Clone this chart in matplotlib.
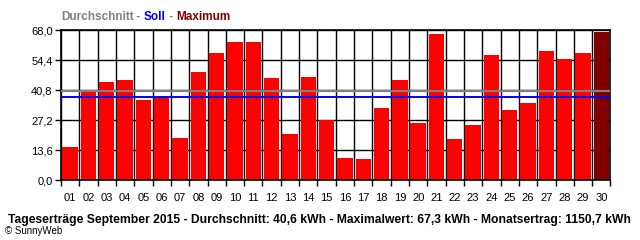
import matplotlib.pyplot as plt
import numpy as np

plt.rcParams['font.family'] = ['Liberation Sans', 'DejaVu Sans']

# Tageserträge September 2015 (kWh)
tage = ['%02d' % d for d in range(1, 31)]
ertrag = [15.1, 40.2, 44.6, 45.5, 36.4, 38.2, 19.2, 49.1, 57.7, 62.7,
          62.7, 46.4, 21.0, 46.8, 27.4, 10.1, 9.7, 32.8, 45.5, 26.0,
          66.3, 18.7, 25.1, 56.8, 31.9, 35.1, 58.6, 55.0, 57.7, 67.3]
durchschnitt = 40.6
soll = 37.9
y_ticks = [0.0, 13.6, 27.2, 40.8, 54.4, 68.0]

fig = plt.figure(figsize=(6.4, 2.4), dpi=100)
ax = fig.add_axes([0.0953, 0.2488, 0.8586, 0.625])

x = np.arange(len(tage))
imax = int(np.argmax(ertrag))
farben = ['#ff0000'] * len(tage)
farben[imax] = '#800000'
ax.bar(x, ertrag, width=0.84, color=farben, zorder=2)

ax.axhline(durchschnitt, color='#808080', lw=1.6, zorder=3)
ax.axhline(soll, color='#0000ff', lw=1.4, zorder=4)

ax.set_xlim(-0.5, len(tage) - 0.5)
ax.set_ylim(0, 68)
ax.set_yticks(y_ticks)
ax.set_yticklabels([('%.1f' % v).replace('.', ',') for v in y_ticks], fontsize=8)
ax.set_xticks(x)
ax.set_xticklabels(tage, fontsize=8)
ax.set_xticks(np.arange(-0.5, len(tage)), minor=True)
ax.tick_params(axis='x', which='major', length=0, pad=9)
ax.tick_params(axis='x', which='minor', length=4, width=1.0, color='black')
ax.tick_params(axis='y', length=4, width=1.0, pad=2)
ax.grid(True, which='minor', axis='x', color='black', lw=1.0, zorder=1)
ax.grid(True, which='major', axis='y', color='black', lw=1.0, zorder=1)
ax.set_axisbelow(True)
for s in ax.spines.values():
    s.set_linewidth(1.2)

# Legende oben
fig.canvas.draw()
r = fig.canvas.get_renderer()
xpos = 0.095
teile = [('Durchschnitt', '#808080'), (' - ', '#808080'), ('Soll', '#0000ff'),
         (' - ', '#808080'), ('Maximum', '#800000')]
for txt, c in teile:
    t = fig.text(xpos, 0.915, txt, color=c, fontsize=8.5, fontweight='bold')
    bb = t.get_window_extent(renderer=r)
    xpos += bb.width / fig.bbox.width

fig.text(0.012, 0.07, 'Tageserträge September 2015 - Durchschnitt: 40,6 kWh - '
         'Maximalwert: 67,3 kWh - Monatsertrag: 1150,7 kWh',
         fontsize=8.7, fontweight='bold')
fig.text(0.008, 0.025, '© SunnyWeb', fontsize=7)

fig.savefig('out.png', dpi=100)
